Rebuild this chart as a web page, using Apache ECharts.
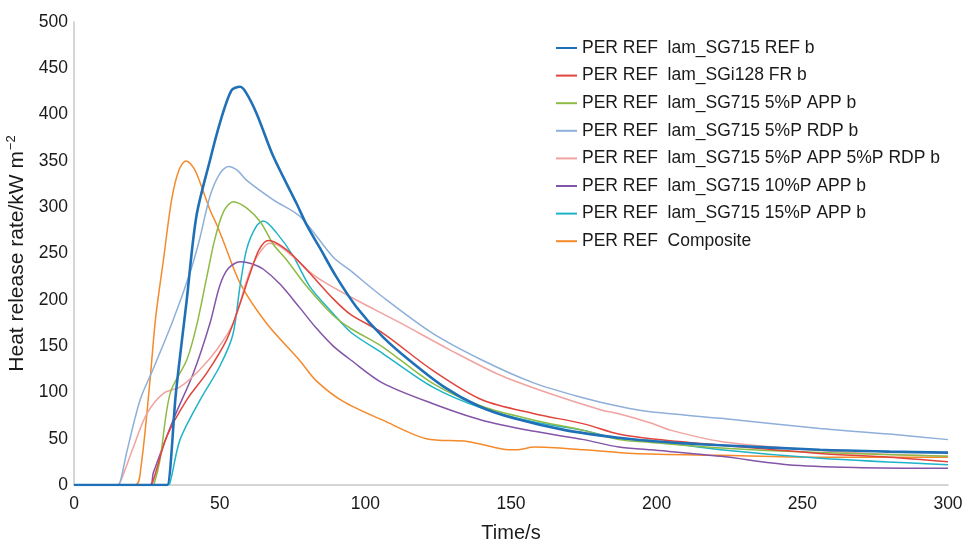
<!DOCTYPE html>
<html><head><meta charset="utf-8">
<script src="https://cdn.jsdelivr.net/npm/echarts@6/dist/echarts.min.js"></script>
<style>html,body{margin:0;padding:0;background:#fff}#c{width:963px;height:541px}</style>
</head><body><div id="c"></div>
<script>
const seriesNames = [
  'PER REF  lam_SG715 REF b',
  'PER REF  lam_SGi128 FR b',
  'PER REF  lam_SG715 5%P APP b',
  'PER REF  lam_SG715 5%P RDP b',
  'PER REF  lam_SG715 5%P APP 5%P RDP b',
  'PER REF  lam_SG715 10%P APP b',
  'PER REF  lam_SG715 15%P APP b',
  'PER REF  Composite'
];
const xTicks = [0, 50, 100, 150, 200, 250, 300];
const yTicks = [0, 50, 100, 150, 200, 250, 300, 350, 400, 450, 500];

const refData = [[0,0],[31,0],[32,0],[35,100],[38.7,200],[42,290],[46.7,351],[50,390],[54,426],[57,430],[59,424],[62.7,401],[68.4,355],[76.4,304],[80,280],[84.4,256],[90,225],[97,192],[106,160],[115,135],[127,106],[139,85],[151,72],[169,59],[187,51],[200,47],[222,43],[256,38],[280,36],[300,35]];
const frData = [[0,0],[26,0],[27,3],[31.8,52],[38.7,92],[45.6,121],[52.4,157],[57,196],[60.4,228],[63.5,254],[66.7,264],[73,254],[80,232],[89,201],[95,184],[106,164],[123,124],[140,92],[158,77],[175,66],[187,55],[198,50],[222,43],[256,34],[280,30],[300,25]];
const app5Data = [[0,0],[27,0],[27.6,2],[29.5,27],[33,99],[38.7,135],[42,171],[45.6,225],[48.3,265],[51.3,295],[54.7,306],[59.3,299],[64,284],[68.4,260],[73,243],[80,214],[89,183],[95,169],[106,149],[123,110],[140,85],[158,70],[175,59],[187,49],[198,46],[222,40],[256,35],[300,31]];
const rdp5Data = [[0,0],[15,0],[16,5],[18,34],[22.7,92],[27,124],[34,178],[39.8,229],[43,264],[46.7,312],[50,336],[53,344],[56,340],[59.3,329],[68.4,308],[77.6,290],[89,246],[94.7,232],[106,203],[123,164],[140,135],[158,110],[175,94],[187,85],[198,79],[222,72],[256,61],[280,55],[300,49]];
const appRdpData = [[0,0],[15,0],[16,4],[20.4,41],[25,77],[30.7,99],[36.4,106],[43,124],[49,146],[54.7,175],[59.3,221],[61.5,239],[64,252],[67,261],[70,259],[75,247],[83,225],[95,203],[112,175],[129,146],[146,119],[163,99],[181,81],[187,77],[198,67],[205,59],[222,47],[245,40],[273,34],[300,31]];
const app10Data = [[0,0],[26,0],[27.2,13],[34,70],[41,121],[46.7,175],[50,215],[53,234],[57,241],[61,239],[65,233],[70.7,217],[77.6,191],[83,170],[89,150],[95,135],[106,110],[123,88],[140,70],[158,58],[175,49],[187,41],[198,38],[222,31],[245,22],[268,19],[300,18]];
const app15Data = [[0,0],[32,0],[33,3],[36.4,49],[43.3,92],[50,128],[54.5,162],[57,215],[59.3,255],[62.7,280],[65,285],[69.6,272],[75.3,247],[81,214],[89,185],[95,165],[106,142],[123,106],[140,83],[158,68],[175,59],[187,50],[198,48],[222,38],[256,29],[300,22]];
const compositeData = [[0,0],[21,0],[23,20],[26,110],[28,180],[30.7,243],[33.5,308],[36,340],[38.4,350],[40,347],[42,337],[46.7,297],[49,281],[51.3,263],[57,218],[66,175],[77.6,134],[83,113],[92.5,90],[106,70],[121,50],[135,47],[147,39],[152,38],[158,41],[175,38],[192,34],[222,32],[256,30],[300,30]];

const allData = [refData, frData, app5Data, rdp5Data, appRdpData, app10Data, app15Data, compositeData];
const colors = ['#1f70b6', '#e0443c', '#8dbb45', '#8eafd9', '#f0a3a0', '#8354a8', '#1fb3c9', '#f58a2b'];
const widths = [2.6, 1.5, 1.5, 1.5, 1.5, 1.5, 1.5, 1.5];

const FONT = '"Liberation Sans", Arial, sans-serif';
const TXT = '#1a1a1a';
const chart = echarts.init(document.getElementById('c'), null, {renderer: 'canvas'});
chart.setOption({
  animation: false,
  backgroundColor: '#fff',
  color: colors,
  grid: {left: 74, right: 15, top: 22, bottom: 56, containLabel: false, outerBoundsMode: 'none'},
  legend: {
    orient: 'vertical', left: 555, top: 39, padding: 0,
    itemWidth: 21, itemHeight: 10, itemGap: 9.6,
    textStyle: {fontFamily: FONT, fontSize: 17.5, color: TXT, lineHeight: 18},
    data: seriesNames.map((n, i) => ({name: n, itemStyle: {opacity: 0}, lineStyle: {width: 2}}))
  },
  xAxis: {
    type: 'value', min: 0, max: 300, interval: 50,
    name: 'Time/s', nameLocation: 'middle', nameGap: 38,
    nameTextStyle: {fontFamily: FONT, fontSize: 20, color: TXT},
    axisLine: {show: true, lineStyle: {color: '#c8c8c8', width: 1.5}},
    axisTick: {show: false},
    splitLine: {show: false},
    axisLabel: {fontFamily: FONT, fontSize: 17.5, color: TXT, margin: 10,
      formatter: v => xTicks.includes(v) ? String(v) : ''}
  },
  yAxis: {
    type: 'value', min: 0, max: 500, interval: 50,
    name: '{a|Heat release rate/kW m}{s|−2}', nameLocation: 'middle', nameGap: 42,
    nameTextStyle: {fontFamily: FONT, fontSize: 21, color: TXT,
      rich: {a: {fontFamily: FONT, fontSize: 21, color: TXT, lineHeight: 24},
             s: {fontFamily: FONT, fontSize: 13, color: TXT, verticalAlign: 'top', lineHeight: 24, padding: [0,0,9,1]}}},
    axisLine: {show: true, lineStyle: {color: '#c8c8c8', width: 1.5}},
    axisTick: {show: false},
    splitLine: {show: false},
    axisLabel: {fontFamily: FONT, fontSize: 17.5, color: TXT, margin: 6,
      formatter: v => yTicks.includes(v) ? String(v) : ''}
  },
  series: seriesNames.map((n, i) => ({
    name: n, type: 'line', data: allData[i], showSymbol: false, symbol: 'none',
    smooth: 0.3, lineStyle: {width: widths[i], color: colors[i]},
    itemStyle: {color: colors[i]}, z: 10 - i
  }))
});
</script></body></html>
